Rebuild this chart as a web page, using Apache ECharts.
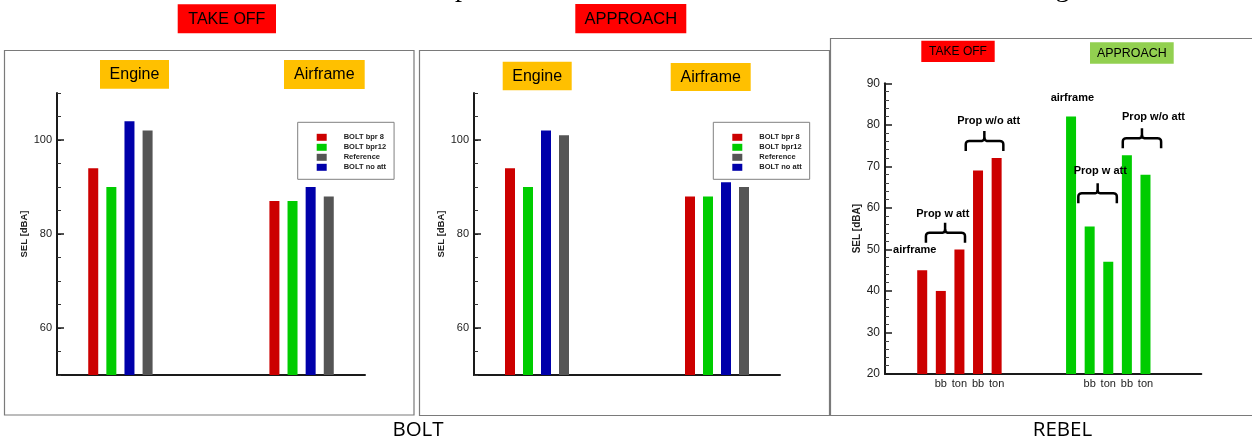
<!DOCTYPE html>
<html><head><meta charset="utf-8">
<script src="https://cdn.jsdelivr.net/npm/echarts@6/dist/echarts.min.js"></script>
<style>html,body{margin:0;padding:0;background:#fff}#c{width:1252px;height:443px}</style>
</head><body><div id="c"></div>
<script>
// ---------------- data ----------------
const boltSeriesNames = ['BOLT bpr 8', 'BOLT bpr12', 'BOLT no att', 'Reference'];
const boltLegendOrder = ['BOLT bpr 8', 'BOLT bpr12', 'Reference', 'BOLT no att'];
const boltGroupNames = ['Engine', 'Airframe'];
const boltTakeoffEngine = [94, 90, 104, 102];
const boltTakeoffAirframe = [87, 87, 90, 88];
const boltApproachEngine = [94, 90, 102, 101];
const boltApproachAirframe = [88, 88, 91, 90];
const boltYTickLabels = [60, 80, 100];
const phaseNames = ['TAKE OFF', 'APPROACH'];

const rebelTickLabels = ['', 'bb', 'ton', 'bb', 'ton'];
const rebelTakeoff = [45, 40, 50, 69, 72];
const rebelApproach = [82, 55.5, 47, 72.7, 68];
const rebelNoteTexts = ['airframe', 'Prop w att', 'Prop w/o att'];
const figureNames = ['BOLT', 'REBEL'];
const axisName = 'SEL [dBA]';

// ---------------- layout / style ----------------
const FONT = 'Liberation Sans, Arial, sans-serif';
const boltColors = ['#cc0000', '#00cc00', '#0000aa', '#555555'];
const boltGroupStart = [2, 12];
const rebelGroupStart = [2, 10];
const boltGrids = [
  { left: 57, top: 93, width: 308, height: 282 },
  { left: 474, top: 93, width: 306, height: 282 }
];
const rebelGrid = { left: 885, top: 83.3, width: 316.3, height: 290.7 };

const boltData = [[boltTakeoffEngine, boltTakeoffAirframe], [boltApproachEngine, boltApproachAirframe]];

const grids = [...boltGrids, rebelGrid];
const xAxes = [];
const yAxes = [];
const series = [];

boltGrids.forEach((g, p) => {
  xAxes.push({
    gridIndex: p, type: 'value', min: 0, max: 17,
    axisLine: { show: true, onZero: false, lineStyle: { color: '#1a1a1a', width: 2 } },
    axisTick: { show: false }, axisLabel: { show: false }, splitLine: { show: false }
  });
  yAxes.push({
    gridIndex: p, type: 'value', min: 50, max: 110, interval: 5, position: 'left',
    name: axisName, nameLocation: 'middle', nameGap: 24,
    nameTextStyle: { fontSize: 9.5, fontWeight: 'bold', color: '#222', fontFamily: FONT },
    axisLine: { show: true, onZero: false, lineStyle: { color: '#1a1a1a', width: 2 } },
    axisTick: { show: true, inside: true, length: 4, lineStyle: { color: '#333', width: 1 } },
    axisLabel: { show: true, customValues: boltYTickLabels, fontSize: 11, color: '#222', margin: 5, fontFamily: FONT },
    splitLine: { show: false }
  });
  yAxes.push({
    gridIndex: p, type: 'value', min: 50, max: 110, position: 'left',
    axisLine: { show: false },
    axisTick: { show: true, inside: true, length: 7, customValues: boltYTickLabels, lineStyle: { color: '#1a1a1a', width: 1.5 } },
    axisLabel: { show: false }, splitLine: { show: false }
  });
  boltSeriesNames.forEach((name, s) => {
    series.push({
      type: 'bar', name, xAxisIndex: p, yAxisIndex: 2 * p,
      barWidth: 10, barGap: '-100%', color: boltColors[s],
      itemStyle: { color: boltColors[s] },
      data: boltGroupStart.map((st, gi) => [st + s, boltData[p][gi][s]])
    });
  });
});

// REBEL
const rebelLabelSlots = [];
rebelGroupStart.forEach(st => rebelTickLabels.forEach((t, i) => { if (t) rebelLabelSlots.push(st + i); }));
xAxes.push({
  gridIndex: 2, type: 'value', min: 0, max: 17,
  axisLine: { show: true, onZero: false, lineStyle: { color: '#1a1a1a', width: 2 } },
  axisTick: { show: false },
  axisLabel: {
    show: true, customValues: rebelLabelSlots, fontSize: 11, color: '#222', margin: 4, fontFamily: FONT,
    formatter: v => {
      for (const st of rebelGroupStart) {
        const i = Math.round(v) - st;
        if (i >= 0 && i < rebelTickLabels.length) return rebelTickLabels[i];
      }
      return '';
    }
  },
  splitLine: { show: false }
});
const rebelYIndex = yAxes.length;
yAxes.push({
  gridIndex: 2, type: 'value', min: 20, max: 90, interval: 10, position: 'left',
  name: axisName, nameLocation: 'middle', nameGap: 23,
  nameTextStyle: { fontSize: 10, fontWeight: 'bold', color: '#222', fontFamily: FONT },
  axisLine: { show: true, onZero: false, lineStyle: { color: '#1a1a1a', width: 2 } },
  axisTick: { show: true, inside: true, length: 7, lineStyle: { color: '#1a1a1a', width: 1.5 } },
  minorTick: { show: true, splitNumber: 5, length: 4, lineStyle: { color: '#444', width: 1 } },
  axisLabel: { show: true, fontSize: 12, color: '#222', margin: 5, fontFamily: FONT },
  splitLine: { show: false }
});
[[rebelTakeoff, '#cc0000'], [rebelApproach, '#00cc00']].forEach(([vals, col], k) => {
  series.push({
    type: 'bar', name: 'REBEL ' + phaseNames[k], xAxisIndex: 2, yAxisIndex: rebelYIndex,
    barWidth: 10, barGap: '-100%', itemStyle: { color: col },
    data: vals.map((v, i) => [rebelGroupStart[k] + i, v])
  });
});

const legends = [297.7, 713.3].map(left => ({
  orient: 'vertical', left, top: 122.3, data: boltLegendOrder, icon: 'rect',
  itemWidth: 10, itemHeight: 7, itemGap: 2, selectedMode: false,
  padding: [11, 8, 8, 19], backgroundColor: '#fff', borderColor: '#808080', borderWidth: 1,
  textStyle: { fontSize: 7.5, fontWeight: 'bold', color: '#222', fontFamily: FONT, padding: [0, 0, 0, 12], lineHeight: 7 }
}));

const chart = echarts.init(document.getElementById('c'), null, { renderer: 'canvas' });
chart.setOption({
  animation: false,
  backgroundColor: '#fff',
  grid: grids,
  xAxis: xAxes,
  yAxis: yAxes,
  legend: legends,
  series
});

// ---------------- decorations ----------------
const els = [];
function frame(x, y, w, h) {
  els.push({ type: 'rect', shape: { x, y, width: w, height: h }, style: { fill: 'none', stroke: '#7a7a7a', lineWidth: 1.2 }, z: 0 });
}
function box(x0, y0, x1, y1, fill, text, size) {
  els.push({ type: 'rect', shape: { x: x0, y: y0, width: x1 - x0, height: y1 - y0 }, style: { fill }, z: 5 });
  els.push({ type: 'text', z: 6, style: { text, x: (x0 + x1) / 2, y: (y0 + y1) / 2 + 0.5, align: 'center', verticalAlign: 'middle', textAlign: 'center', textVerticalAlign: 'middle', fill: '#000', font: size + 'px ' + FONT } });
}
function txt(text, x, y, font, align) {
  els.push({ type: 'text', z: 6, style: { text, x, y, align: align || 'center', verticalAlign: 'middle', textAlign: align || 'center', textVerticalAlign: 'middle', fill: '#000', font } });
}
frame(4.5, 50.5, 409.5, 364.5);
frame(419.5, 50.5, 410, 365);
frame(830.5, 38.5, 430, 377);

box(177.7, 4.3, 276, 33.3, '#ff0000', phaseNames[0], 16);
box(575.3, 4, 686.3, 33.3, '#ff0000', phaseNames[1], 16.5);
box(100, 60, 169, 88.7, '#ffc000', boltGroupNames[0], 16);
box(284, 60, 364.7, 89, '#ffc000', boltGroupNames[1], 16);
box(502.7, 61.7, 571.7, 90.3, '#ffc000', boltGroupNames[0], 16);
box(670.7, 63, 750.7, 91, '#ffc000', boltGroupNames[1], 16);
box(921.3, 40.7, 994.7, 62, '#ff0000', phaseNames[0], 12);
box(1090, 42.3, 1173.7, 63.7, '#92d050', phaseNames[1], 12.4);

txt(figureNames[0], 418, 430.5, '20.5px Open Sans, sans-serif');
txt(figureNames[1], 1062.5, 430.5, '20.5px Open Sans, sans-serif');

// cut-off heading glyphs at the very top
els.push({ type: 'text', z: 6, style: { text: 'p', x: 462, y: 3, align: 'center', verticalAlign: 'bottom', textAlign: 'center', textVerticalAlign: 'bottom', fill: '#000', font: '28px Liberation Serif, serif' } });
els.push({ type: 'text', z: 6, style: { text: 'g', x: 1062.5, y: 3, align: 'center', verticalAlign: 'bottom', textAlign: 'center', textVerticalAlign: 'bottom', fill: '#000', font: '28px Liberation Serif, serif' } });

// REBEL annotations in data coordinates
const rebelBraces = [
  { x0: 2.2, x1: 4.3, xm: 3.23, y: 54.0 },
  { x0: 4.34, x1: 6.36, xm: 5.34, y: 76.1 },
  { x0: 10.39, x1: 12.46, xm: 11.43, y: 63.5 },
  { x0: 12.78, x1: 14.84, xm: 13.81, y: 76.75 }
];
const rebelNotes = [
  { t: 0, x: 1.6, y: 49.9 }, { t: 1, x: 3.11, y: 58.45 }, { t: 2, x: 5.57, y: 80.9 },
  { t: 0, x: 10.07, y: 86.4 }, { t: 1, x: 11.57, y: 68.9 }, { t: 2, x: 14.43, y: 81.8 }
];
const px = (x, y) => chart.convertToPixel({ gridIndex: 2 }, [x, y]);
function quad(p0, c, p1, n) {
  const out = [];
  for (let i = 1; i <= n; i++) {
    const t = i / n, u = 1 - t;
    out.push([u * u * p0[0] + 2 * u * t * c[0] + t * t * p1[0], u * u * p0[1] + 2 * u * t * c[1] + t * t * p1[1]]);
  }
  return out;
}
rebelBraces.forEach(b => {
  const [a0, yh] = px(b.x0, b.y);
  const a1 = px(b.x1, b.y)[0];
  const am = px(b.xm, b.y)[0];
  const r = 3.5, up = 10, dn = 10;
  const left = [[a0, yh + dn], [a0, yh + r], ...quad([a0, yh + r], [a0, yh], [a0 + r, yh], 5),
    [am - r, yh], ...quad([am - r, yh], [am, yh], [am, yh - r], 5), [am, yh - up]];
  const right = [[a1, yh + dn], [a1, yh + r], ...quad([a1, yh + r], [a1, yh], [a1 - r, yh], 5),
    [am + r, yh], ...quad([am + r, yh], [am, yh], [am, yh - r], 5)];
  [left, right].forEach(points => els.push({
    type: 'polyline', z: 7, shape: { points },
    style: { fill: 'none', stroke: '#000', lineWidth: 2.5, lineJoin: 'round', lineCap: 'butt' }
  }));
});
rebelNotes.forEach(n => {
  const [x, y] = px(n.x, n.y);
  txt(rebelNoteTexts[n.t], x, y, 'bold 11px ' + FONT);
});

chart.setOption({ graphic: { elements: els } });
</script>
</body></html>
